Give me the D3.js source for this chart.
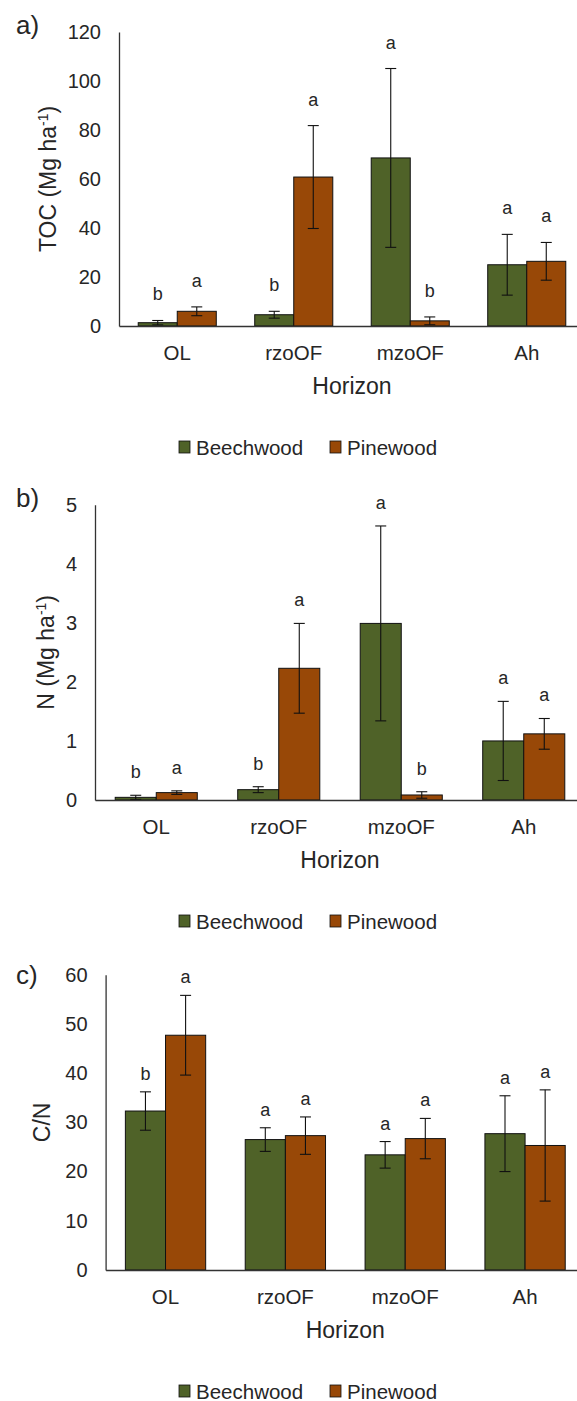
<!DOCTYPE html>
<html>
<head>
<meta charset="utf-8">
<script src="https://cdn.jsdelivr.net/npm/d3@7"></script>
<style>
  body { margin: 0; background: #fff; }
  svg { display: block; font-family: "Liberation Sans", Arial, sans-serif; }
</style>
</head>
<body>
<svg id="chart" width="577" height="1401"></svg>
<script>
// categories and series
var horizons = ["OL", "rzoOF", "mzoOF", "Ah"]
var series = ["Beechwood", "Pinewood"]
var colors = ["#4f6228", "#984807"]

// a) TOC (Mg ha-1)
var tocBeech = [1.35, 4.6, 68.6, 25.0]
var tocBeechErr = [0.9, 1.4, 36.5, 12.4]
var tocPine = [6.0, 60.8, 2.1, 26.4]
var tocPineErr = [1.8, 21.0, 1.6, 7.7]
var tocLettersBeech = ["b", "b", "a", "a"]
var tocLettersPine = ["a", "a", "b", "a"]

// b) N (Mg ha-1)
var nBeech = [0.045, 0.175, 2.99, 1.0]
var nBeechErr = [0.035, 0.05, 1.65, 0.67]
var nPine = [0.125, 2.23, 0.085, 1.12]
var nPineErr = [0.03, 0.76, 0.055, 0.26]
var nLettersBeech = ["b", "b", "a", "a"]
var nLettersPine = ["a", "a", "b", "a"]

// c) C/N
var cnBeech = [32.3, 26.5, 23.4, 27.7]
var cnBeechErr = [3.9, 2.4, 2.7, 7.7]
var cnPine = [47.7, 27.3, 26.7, 25.3]
var cnPineErr = [8.1, 3.8, 4.1, 11.3]
var cnLettersBeech = ["b", "a", "a", "a"]
var cnLettersPine = ["a", "a", "a", "a"]

var tocTicks = [0, 20, 40, 60, 80, 100, 120]
var nTicks = [0, 1, 2, 3, 4, 5]
var cnTicks = [0, 10, 20, 30, 40, 50, 60]

var svg = d3.select("#chart")
var textColor = "#262626"

function drawPanel(p) {
    var rows = []
    horizons.forEach((h, i) => {
        rows.push({ cat: h, s: series[0], v: p.beech[i], e: p.beechErr[i], l: p.beechLetters[i], c: colors[0] })
        rows.push({ cat: h, s: series[1], v: p.pine[i], e: p.pineErr[i], l: p.pineLetters[i], c: colors[1] })
    })
    var xEnd = 585
    var x0 = d3.scaleBand().domain(horizons).range([p.axisX, xEnd])
    var step = x0.step()
    var x1 = d3.scaleBand().domain(series).range([step * 0.165, step * 0.835])
    var y = d3.scaleLinear().domain([0, d3.max(p.ticks)]).range([p.bottom, p.top])

    var g = svg.append("g")

    // bars
    g.selectAll("rect.bar")
        .data(rows)
        .enter()
        .append("rect")
        .attr("class", "bar")
        .attr("x", d => x0(d.cat) + x1(d.s))
        .attr("y", d => y(d.v))
        .attr("width", x1.bandwidth())
        .attr("height", d => y(0) - y(d.v))
        .attr("fill", d => d.c)
        .attr("stroke", "#111")
        .attr("stroke-width", 1)

    // error bars
    var cx = d => x0(d.cat) + x1(d.s) + x1.bandwidth() / 2
    var eb = g.selectAll("g.err").data(rows).enter().append("g").attr("class", "err")
        .attr("stroke", "#111").attr("stroke-width", 1.1)
    eb.append("line")
        .attr("x1", cx).attr("x2", cx)
        .attr("y1", d => y(d.v + d.e)).attr("y2", d => y(Math.max(0, d.v - d.e)))
    eb.append("line")
        .attr("x1", d => cx(d) - 5.5).attr("x2", d => cx(d) + 5.5)
        .attr("y1", d => y(d.v + d.e)).attr("y2", d => y(d.v + d.e))
    eb.append("line")
        .attr("x1", d => cx(d) - 5.5).attr("x2", d => cx(d) + 5.5)
        .attr("y1", d => y(Math.max(0, d.v - d.e))).attr("y2", d => y(Math.max(0, d.v - d.e)))

    // significance letters
    g.selectAll("text.letter")
        .data(rows)
        .enter()
        .append("text")
        .attr("class", "letter")
        .attr("x", cx)
        .attr("y", d => y(d.v + d.e) - p.letterGap)
        .attr("text-anchor", "middle")
        .attr("font-size", 18)
        .attr("fill", textColor)
        .text(d => d.l)

    // y axis (line only, labels)
    var yAxis = g.append("g")
        .attr("transform", "translate(" + p.axisX + ",0)")
        .call(d3.axisLeft(y).tickValues(p.ticks).tickFormat(d3.format("d")).tickSize(0).tickPadding(18))
    yAxis.select(".domain").attr("stroke", "#333").attr("stroke-width", 1.3)
    yAxis.selectAll("text").attr("font-size", 20).attr("fill", textColor)
        .attr("font-family", "Liberation Sans, Arial, sans-serif")

    // x axis
    var xAxis = g.append("g")
        .attr("transform", "translate(0," + p.bottom + ")")
        .call(d3.axisBottom(x0).tickSize(0).tickPadding(0))
    xAxis.select(".domain").attr("stroke", "#333").attr("stroke-width", 1.3)
    xAxis.selectAll("text")
        .attr("y", 26).attr("dy", null)
        .attr("dominant-baseline", "central")
        .attr("font-size", 20.5).attr("fill", textColor)
        .attr("font-family", "Liberation Sans, Arial, sans-serif")

    // axis titles
    g.append("text")
        .attr("x", (p.axisX + xEnd) / 2)
        .attr("y", p.bottom + 60)
        .attr("text-anchor", "middle")
        .attr("dominant-baseline", "central")
        .attr("font-size", 23)
        .attr("fill", textColor)
        .text("Horizon")

    var yt = g.append("text")
        .attr("transform", "translate(" + p.titleX + "," + ((p.top + p.bottom) / 2) + ") rotate(-90)")
        .attr("text-anchor", "middle")
        .attr("y", 8)
        .attr("font-size", 23)
        .attr("fill", textColor)
    yt.append("tspan").text(p.title[0])
    if (p.title.length > 1) {
        yt.append("tspan").attr("font-size", 14).attr("dy", -8).text(p.title[1])
        yt.append("tspan").attr("dy", 8).text(p.title[2])
    }

    // panel label
    g.append("text")
        .attr("x", 16)
        .attr("y", p.labelY)
        .attr("font-size", 26)
        .attr("fill", textColor)
        .text(p.label)

    // legend
    var legX = [179, 330]
    series.forEach((s, i) => {
        g.append("rect")
            .attr("x", legX[i]).attr("y", p.bottom + 121 - 6)
            .attr("width", 11).attr("height", 12)
            .attr("fill", colors[i]).attr("stroke", "#111").attr("stroke-width", 0.8)
        g.append("text")
            .attr("x", legX[i] + 17).attr("y", p.bottom + 121)
            .attr("dominant-baseline", "central")
            .attr("font-size", 20.5)
            .attr("fill", textColor)
            .text(s)
    })
}

drawPanel({ label: "a)", labelY: 34, title: ["TOC (Mg ha", "-1", ")"], titleX: 48,
    beech: tocBeech, beechErr: tocBeechErr, pine: tocPine, pineErr: tocPineErr,
    beechLetters: tocLettersBeech, pineLetters: tocLettersPine,
    ticks: tocTicks, top: 32, bottom: 326, axisX: 119, letterGap: 20 })

drawPanel({ label: "b)", labelY: 507, title: ["N (Mg ha", "-1", ")"], titleX: 46,
    beech: nBeech, beechErr: nBeechErr, pine: nPine, pineErr: nPineErr,
    beechLetters: nLettersBeech, pineLetters: nLettersPine,
    ticks: nTicks, top: 504.7, bottom: 800, axisX: 95, letterGap: 17 })

drawPanel({ label: "c)", labelY: 984, title: ["C/N"], titleX: 42,
    beech: cnBeech, beechErr: cnBeechErr, pine: cnPine, pineErr: cnPineErr,
    beechLetters: cnLettersBeech, pineLetters: cnLettersPine,
    ticks: cnTicks, top: 974.7, bottom: 1270, axisX: 105.6, letterGap: 12 })
</script>
</body>
</html>
